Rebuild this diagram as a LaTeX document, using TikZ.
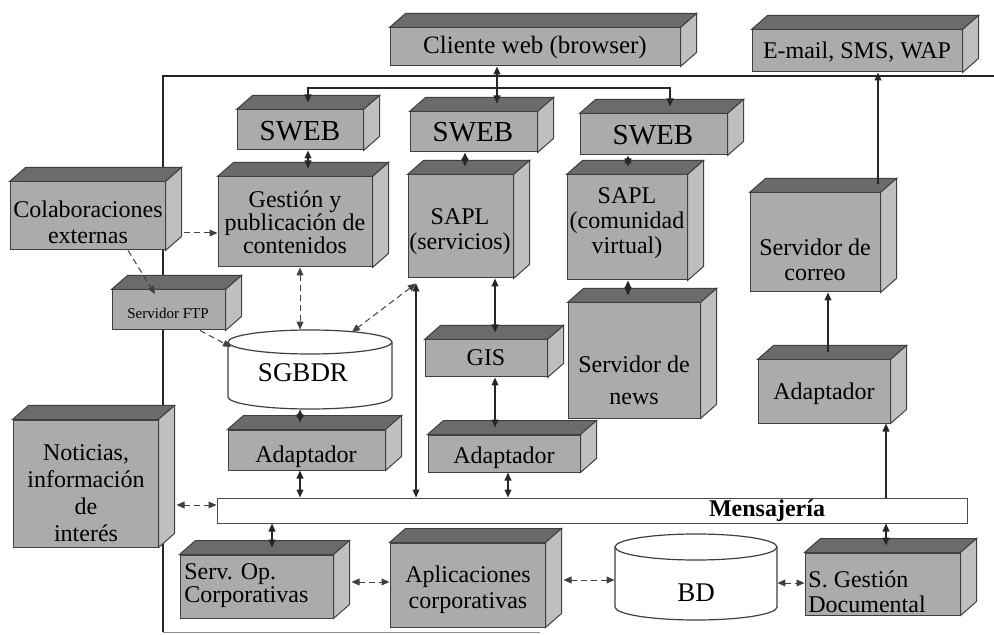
\documentclass[tikz,border=0pt]{standalone}
\usepackage{fontspec}
\setmainfont{Liberation Serif}
\usetikzlibrary{arrows.meta,calc,fit}
\newcommand\cubebox[3]{%
  \node[front, fit={(#2) (#3)}] (#1) {};
  \draw[topf] (#1.north west) -- ++(16,-14) -- ($(#1.north east)+(16,-14)$) -- (#1.north east) -- cycle;
  \draw[sidef] (#1.north east) -- ++(16,-14) -- ($(#1.south east)+(16,-14)$) -- (#1.south east) -- cycle;
}
\begin{document}
\begin{tikzpicture}[x=0.5pt,y=-0.5pt,
  front/.style={draw=black!75, fill=black!33, inner sep=0pt, line width=0.5pt},
  topf/.style={draw=black!75, fill=black!58, line width=0.5pt},
  sidef/.style={draw=black!75, fill=black!25, line width=0.5pt},
  btxt/.style={inner sep=0pt, align=center, font=\fontsize{12}{11.5}\selectfont},
  bigtxt/.style={inner sep=0pt, font=\fontsize{14.5}{14}\selectfont},
  cyl/.style={draw=black!75, fill=white, line width=0.6pt},
  conn/.style={line width=0.7pt, draw=black!85},
  thin/.style={line width=0.5pt, draw=black!75, densely dashed},
  tip/.style={-{Triangle[length=4pt,width=3.4pt]}},
  dtip/.style={{Triangle[length=4pt,width=3.4pt]}-{Triangle[length=4pt,width=3.4pt]}}
]
\useasboundingbox (0,0) rectangle (994,635);
\fill[white] (0,0) rectangle (994,635);

% outer bus
\coordinate (busbl) at (163,632);
\coordinate (bustl) at (163,76);
\coordinate (busr) at (994,76);
\coordinate (busbr) at (540,632);
\draw[conn] (busbl) -- (bustl) -- (busr);
\draw[line width=0.5pt, black!45] (busbl) -- (busbr);

% boxes
\cubebox{cliente}{390,28}{680,66}
\node[btxt, font=\fontsize{12.5}{12}\selectfont] (clienteT) at (535,47) {Cliente web (browser)};
\cubebox{email}{752,30}{962,72}
\node[btxt] (emailT) at (857,52) {E-mail, SMS, WAP};

\cubebox{sweb1}{237,110}{363,150}
\node[bigtxt] (sweb1T) at (300,131) {SWEB};
\cubebox{sweb2}{410,112}{537,152}
\node[bigtxt] (sweb2T) at (473,132) {SWEB};
\cubebox{sweb3}{580,114}{727,155}
\node[bigtxt] (sweb3T) at (653,135) {SWEB};

\cubebox{colab}{10,182}{165,250}
\node[btxt, font=\fontsize{12}{13}\selectfont] (colabT) at (88,222) {Colaboraciones\\externas};
\cubebox{gest}{218,177}{372,267}
\node[btxt] (gestT) at (295,222) {Gestión y\\publicación de\\contenidos};
\cubebox{sapl1}{408,175}{513,278}
\node[btxt, font=\fontsize{12}{12.5}\selectfont] (sapl1T) at (460,232) {SAPL\\(servicios)};
\cubebox{sapl2}{567,175}{687,280}
\node[btxt, font=\fontsize{12}{12.5}\selectfont] (sapl2T) at (627,223) {SAPL\\(comunidad\\virtual)};
\cubebox{correo}{750,193}{880,292}
\node[btxt, font=\fontsize{12}{12.5}\selectfont] (correoT) at (815,260) {Servidor de\\correo};

\cubebox{ftp}{112,290}{225,330}
\node[btxt, font=\fontsize{7.5}{8}\selectfont] (ftpT) at (168,313) {Servidor FTP};

\cubebox{gis}{425,340}{547,377}
\node[btxt] (gisT) at (486,358) {GIS};
\cubebox{news}{568,303}{700,418}
\node[btxt, font=\fontsize{12}{16}\selectfont] (newsT) at (634,380) {Servidor de\\news};
\cubebox{adapr}{758,360}{890,423}
\node[btxt] (adaprT) at (824,394) {Adaptador};

\cubebox{noticias}{13,420}{158,547}
\node[btxt, font=\fontsize{12}{13.5}\selectfont] (noticiasT) at (86,493) {Noticias,\\información\\de\\interés};
\cubebox{adapl}{228,430}{385,470}
\node[btxt] (adaplT) at (306,457) {Adaptador};
\cubebox{adapm}{428,435}{580,472}
\node[btxt] (adapmT) at (504,458) {Adaptador};

% SGBDR cylinder
\node[fit={(228,330) (392,409)}, inner sep=0pt] (sgbdr) {};
\filldraw[cyl] (228,342) -- (228,397) arc[start angle=180,end angle=360,x radius=41pt,y radius=6pt] -- (392,342) arc[start angle=0,end angle=180,x radius=41pt,y radius=6pt] -- cycle;
\draw[cyl] (228,342) arc[start angle=180,end angle=360,x radius=41pt,y radius=6pt];
\node[btxt, font=\fontsize{13.5}{14}\selectfont] (sgbdrT) at (303,373) {SGBDR};

% Mensajeria bar
\node[draw=black!70, fill=white, line width=0.5pt, fit={(217,498) (967,523)}, inner sep=0pt] (mens) {};
\node[btxt, font=\bfseries\fontsize{12}{12}\selectfont] (mensT) at (767,511) {Mensajería};

% bottom row
\cubebox{servop}{180,555}{333,618}
\node[btxt, align=left, anchor=west] (servopT) at (184,586) {Serv. Op.\\Corporativas};
\cubebox{aplic}{390,543}{545,627}
\node[btxt, font=\fontsize{12}{13}\selectfont] (aplicT) at (468,590) {Aplicaciones\\corporativas};
\node[fit={(615,534) (777,620)}, inner sep=0pt] (bd) {};
\filldraw[cyl] (615,547) -- (615,607) arc[start angle=180,end angle=360,x radius=40.5pt,y radius=6.5pt] -- (777,547) arc[start angle=0,end angle=180,x radius=40.5pt,y radius=6.5pt] -- cycle;
\draw[cyl] (615,547) arc[start angle=180,end angle=360,x radius=40.5pt,y radius=6.5pt];
\node[btxt, font=\fontsize{13.5}{14}\selectfont] (bdT) at (696,593) {BD};
\cubebox{gestdoc}{805,553}{960,615}
\node[btxt, align=left, anchor=west, font=\fontsize{12}{12.5}\selectfont] (gestdocT) at (808,592) {S. Gestión\\Documental};

% connectors: top
\coordinate (br) at (497,88);
\draw[conn,dtip] (497,0 |- cliente.south) -- ($(497,0 |- sweb2.north)+(0,-8)$);
\draw[conn,tip] (br) -| ($(308,0 |- sweb1.north)+(0,-7)$);
\draw[conn,tip] (br) -| ($(670,0 |- sweb3.north)+(0,-7)$);
\draw[conn,tip] ($(878,0 |- correo.north)+(0,-8)$) -- (878,0 |- email.south);

\draw[conn,dtip] (308,0 |- sweb1.south) -- ($(308,0 |- gest.north)+(0,-8)$);
\draw[conn,dtip] (465,0 |- sweb2.south) -- ($(465,0 |- sapl1.north)+(0,-8)$);
\draw[conn,dtip] (628,0 |- sweb3.south) -- ($(628,0 |- sapl2.north)+(0,-8)$);

% left side
\draw[thin,tip] ($(colab.east |- 0,233)+(18,0)$) -- (gest.west |- 0,233);
\draw[thin,tip] (128,0 |- colab.south) -- (155,294);
\draw[thin,tip] (200,0 |- ftp.south) -- (231,347);
\draw[thin,dtip] (300,0 |- gest.south) -- (300,0 |- sgbdr.north);
\coordinate (saplfoot) at ($(416,0 |- sapl1.south)+(0,5)$);
\draw[thin,dtip] (saplfoot) -- (352,332);
\draw[conn,dtip] (saplfoot) -- (416,0 |- mens.north);

% middle
\draw[conn,dtip] (495,0 |- sapl1.south) -- ($(495,0 |- gis.north)+(0,-7)$);
\draw[conn,dtip] (495,0 |- gis.south) -- ($(495,0 |- adapm.north)+(0,-7)$);
\draw[conn,dtip] (508,0 |- adapm.south) -- (508,0 |- mens.north);
\draw[conn,dtip] (300,0 |- sgbdr.south) -- ($(300,0 |- adapl.north)+(0,-7)$);
\draw[conn,dtip] (300,0 |- adapl.south) -- (300,0 |- mens.north);
\draw[conn,dtip] (628,0 |- sapl2.south) -- ($(628,0 |- news.north)+(0,-7)$);

% right
\draw[conn,tip] ($(828,0 |- adapr.north)+(0,-7)$) -- (828,0 |- correo.south);
\draw[conn,tip] (886,0 |- mens.north) -- (886,0 |- adapr.south);
\draw[conn,dtip] (886,0 |- mens.south) -- ($(886,0 |- gestdoc.north)+(0,-7)$);

% bottom
\draw[thin,dtip] ($(noticias.east |- 0,505)+(18,0)$) -- (mens.west |- 0,505);
\draw[conn,dtip] (272,0 |- mens.south) -- ($(272,0 |- servop.north)+(0,-7)$);
\draw[thin,dtip] ($(servop.east |- 0,582)+(18,0)$) -- (aplic.west |- 0,582);
\draw[thin,dtip] ($(aplic.east |- 0,580)+(18,0)$) -- (bd.west |- 0,580);
\draw[thin,dtip] (bd.east |- 0,583) -- (gestdoc.west |- 0,583);
\end{tikzpicture}
\end{document}
